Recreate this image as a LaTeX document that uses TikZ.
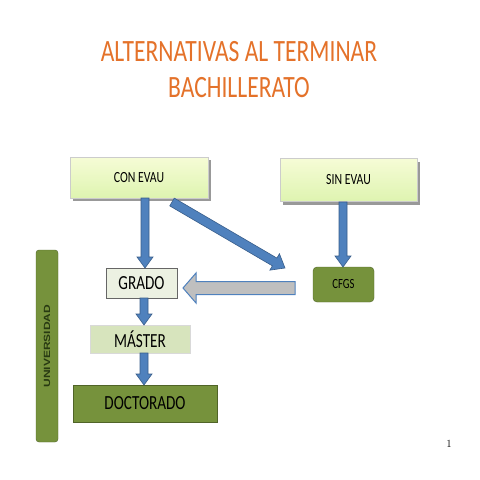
\documentclass[tikz,border=0pt]{standalone}
\usepackage{fontspec}
\usetikzlibrary{calc,shadows}
\newfontfamily\narrowfont{Carlito}[FakeStretch=0.76]
\newfontfamily\univfont{Liberation Sans}
\definecolor{titleorange}{RGB}{228,114,42}
\definecolor{arrowblue}{RGB}{79,129,189}
\definecolor{arrowedge}{RGB}{56,93,138}
\definecolor{olive}{RGB}{118,146,60}
\definecolor{oliveedge}{RGB}{80,100,40}
\definecolor{palegreen}{RGB}{215,228,189}
\definecolor{gradofill}{RGB}{236,241,226}
\definecolor{evautop}{RGB}{246,252,214}
\definecolor{evaubot}{RGB}{222,244,176}
\definecolor{univtext}{RGB}{40,58,18}
\tikzset{
  fat/.style args={#1/#2/#3}{to path={
    ($(\tikztostart)!#1!90:(\tikztotarget)$)
    -- ($(\tikztotarget)!#3!(\tikztostart)!#1!-90:(\tikztostart)$)
    -- ($(\tikztotarget)!#3!(\tikztostart)!#2!-90:(\tikztostart)$)
    -- (\tikztotarget)
    -- ($(\tikztotarget)!#3!(\tikztostart)!#2!90:(\tikztostart)$)
    -- ($(\tikztotarget)!#3!(\tikztostart)!#1!90:(\tikztostart)$)
    -- ($(\tikztostart)!#1!-90:(\tikztotarget)$) -- cycle}},
  bluearrow/.style={fill=arrowblue, draw=arrowedge, line width=0.6pt, fat=4pt/8pt/11pt},
  greyarrow/.style={fill=black!25, draw=arrowblue, line width=1pt, fat=6.5pt/15pt/13pt},
  evaubox/.style={draw=black!20, top color=evautop, bottom color=evaubot,
    drop shadow={shadow xshift=3pt, shadow yshift=-3pt, fill=black!40, opacity=1},
    font=\narrowfont\fontsize{15.5}{18}\selectfont},
  stepbox/.style={draw=#1, font=\narrowfont\fontsize{20}{24}\selectfont}
}
\begin{document}
\begin{tikzpicture}[x=1pt,y=-1pt]
    \tikzstyle{every node}+=[inner sep=0pt]
    \useasboundingbox (0,0) rectangle (480,480);
    \node [align=center, text=titleorange, font=\narrowfont\fontsize{31}{36}\selectfont] (title) at (239,70) {ALTERNATIVAS AL TERMINAR\\BACHILLERATO};
    \node [evaubox, minimum width=138pt, minimum height=41pt] (con) at (139,177.5) {CON EVAU};
    \node [evaubox, minimum width=137pt, minimum height=43pt] (sin) at (348.5,180) {SIN EVAU};
    \node [stepbox=black!60, fill=gradofill, minimum width=71pt, minimum height=30pt] (grado) at (141.5,283) {GRADO};
    \node [draw=oliveedge, fill=olive, rounded corners=4pt, minimum width=61pt, minimum height=35pt, font=\narrowfont\fontsize{14}{17}\selectfont] (cfgs) at (343.5,284.5) {CFGS};
    \node [stepbox=black!15, fill=palegreen, minimum width=100pt, minimum height=28pt] (master) at (140,339) {MÁSTER};
    \node [stepbox=oliveedge, fill=olive, minimum width=144pt, minimum height=37pt] (doc) at (145,403.5) {DOCTORADO};
    \node [draw=oliveedge, fill=olive, rounded corners=3pt, minimum width=22pt, minimum height=192pt] (univ) at (47,346) {};
    \node [rotate=90, text=univtext, font=\univfont\bfseries\fontsize{12}{14}\selectfont] (univlabel) at (univ.center) {\scalebox{1}[0.75]{UNIVERSIDAD}};
    \node (page) at (449,444) {\fontsize{11}{13}\selectfont\normalfont 1};
    \coordinate (c1) at (145,198);
    \coordinate (g1) at (145,268);
    \coordinate (c2) at (172,202);
    \coordinate (d2) at (285,268);
    \coordinate (s1) at (343,202);
    \coordinate (f1) at (343,267);
    \coordinate (f2) at (295,288);
    \coordinate (g2) at (183,288);
    \coordinate (g3) at (144,298);
    \coordinate (m1) at (144,325);
    \coordinate (m2) at (144,353);
    \coordinate (d1) at (144,385);
    \draw [bluearrow] (c1) to (g1);
    \draw [bluearrow, fat=4.5pt/9.5pt/12pt] (c2) to (d2);
    \draw [bluearrow] (s1) to (f1);
    \draw [greyarrow] (f2) to (g2);
    \draw [bluearrow] (g3) to (m1);
    \draw [bluearrow] (m2) to (d1);
\end{tikzpicture}
\end{document}
